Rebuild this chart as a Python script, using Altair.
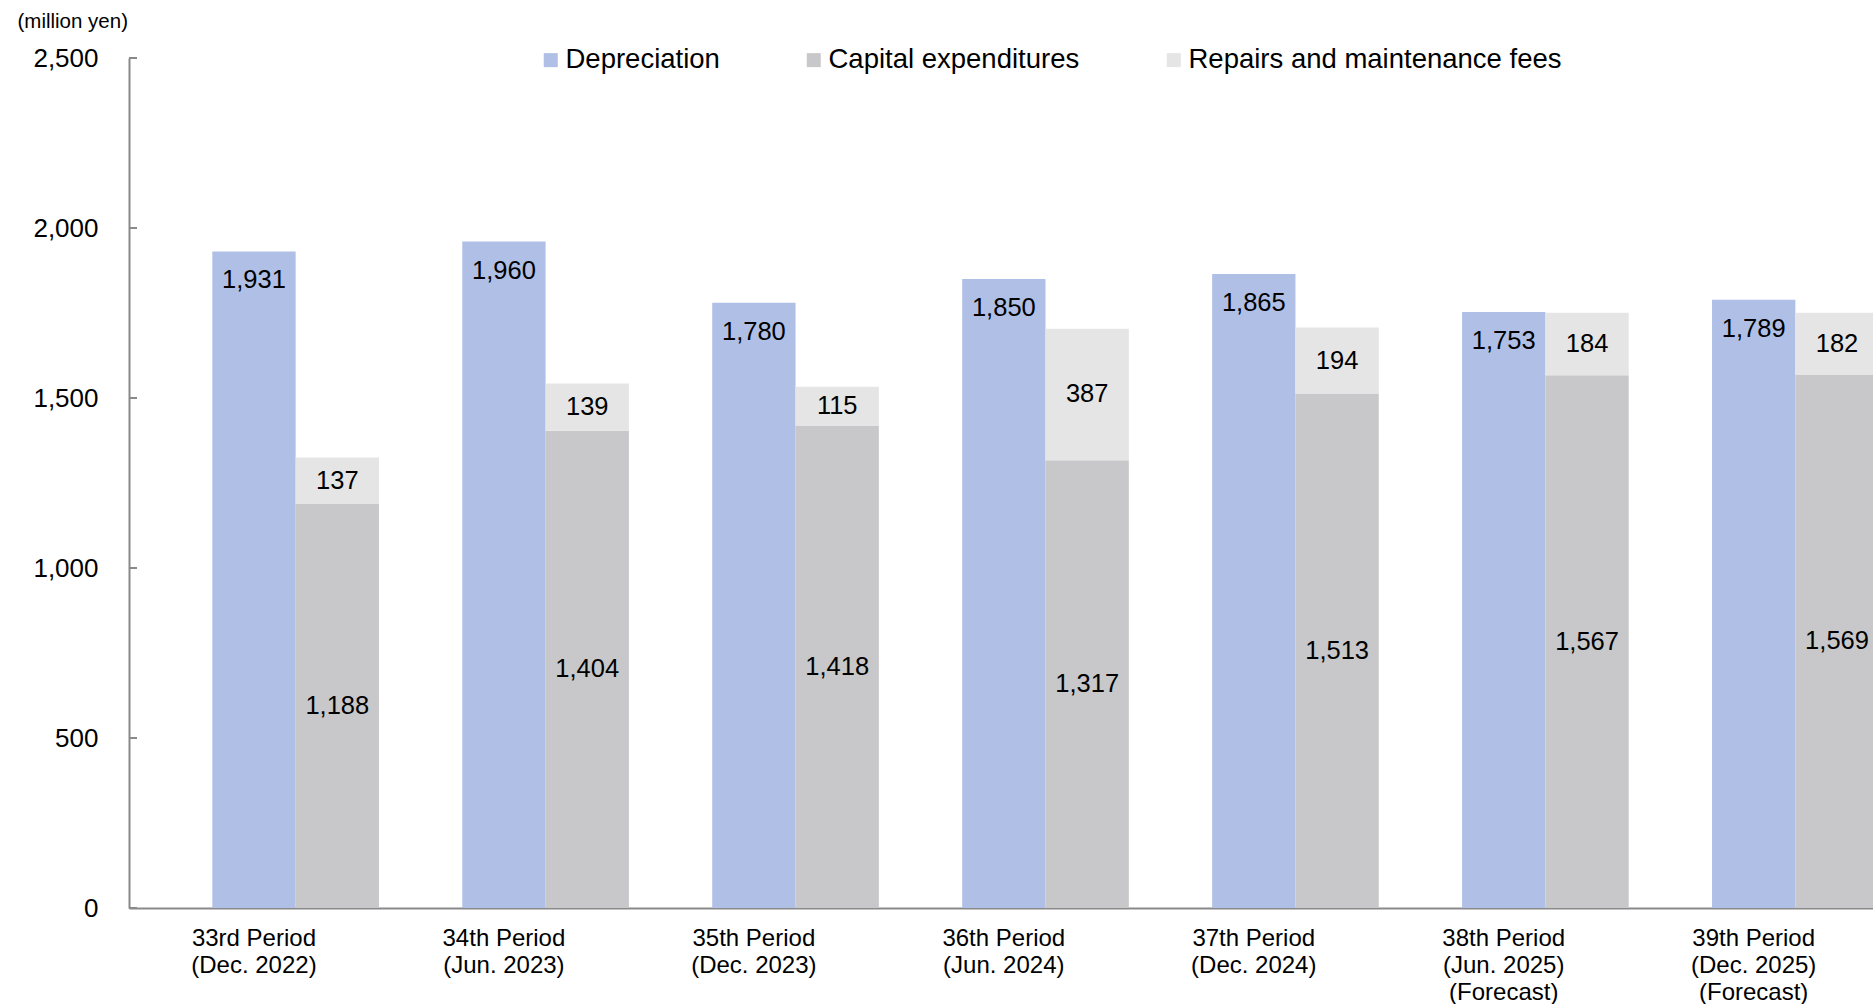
import altair as alt
import pandas as pd

# ---- data ----
periods = [
    "33rd Period|(Dec. 2022)",
    "34th Period|(Jun. 2023)",
    "35th Period|(Dec. 2023)",
    "36th Period|(Jun. 2024)",
    "37th Period|(Dec. 2024)",
    "38th Period|(Jun. 2025)|(Forecast)",
    "39th Period|(Dec. 2025)|(Forecast)",
]
depreciation = [1931, 1960, 1780, 1850, 1865, 1753, 1789]
capex = [1188, 1404, 1418, 1317, 1513, 1567, 1569]
repairs = [137, 139, 115, 387, 194, 184, 182]

series_names = ["Depreciation", "Capital expenditures", "Repairs and maintenance fees"]
series_colors = ["#AFBFE6", "#C8C8CA", "#E5E5E5"]
y_ticks = [0, 500, 1000, 1500, 2000, 2500]

rows = []
for i, p in enumerate(periods):
    rows.append(dict(period=p, group="A", series=series_names[0], base=0, top=depreciation[i], val=depreciation[i]))
    rows.append(dict(period=p, group="B", series=series_names[1], base=0, top=capex[i], val=capex[i]))
    rows.append(dict(period=p, group="B", series=series_names[2], base=capex[i], top=capex[i] + repairs[i], val=repairs[i]))
df = pd.DataFrame(rows)
ticks_df = pd.DataFrame({"top": y_ticks})

FONT = "Liberation Sans"
AXIS_GRAY = "#898989"

x_scale = alt.Scale(domain=periods, range=[0, 1833], paddingInner=1 / 3, paddingOuter=1 / 3)
xoff = alt.XOffset("group:N", scale=alt.Scale(domain=["A", "B"], paddingInner=0, paddingOuter=0))
y_scale = alt.Scale(domain=[0, 2500], nice=False)

x_axis = alt.Axis(
    title="",
    labelExpr="split(datum.label, '|')",
    labelFont=FONT,
    labelFontSize=24,
    labelColor="black",
    labelPadding=18,
    labelLineHeight=27,
    labelOffset=-41.7,
    labelAngle=0,
    labelOverlap=False,
    labelBound=False,
    labelLimit=400,
    ticks=False,
    tickSize=0,
    domainColor=AXIS_GRAY,
    domainWidth=2,
    grid=False,
)
y_axis = alt.Axis(
    title="(million yen)",
    titleAngle=0,
    titleX=-112,
    titleY=-37,
    titleAlign="left",
    titleBaseline="middle",
    titleFont=FONT,
    titleFontSize=20.5,
    titleFontWeight="normal",
    titleColor="black",
    values=y_ticks,
    format=",d",
    labelFont=FONT,
    labelFontSize=26,
    labelColor="black",
    labelPadding=31,
    ticks=False,
    tickSize=0,
    domainColor=AXIS_GRAY,
    domainWidth=2,
    grid=False,
)

X = alt.X("period:N", sort=periods, scale=x_scale, axis=x_axis)
Y_TOP = alt.Y("top:Q", scale=y_scale, axis=y_axis)

base = alt.Chart(df)

bars = base.mark_bar(clip=True).encode(
    x=X,
    xOffset=xoff,
    y=Y_TOP,
    y2="base:Q",
    color=alt.Color(
        "series:N",
        scale=alt.Scale(domain=series_names, range=series_colors),
        legend=alt.Legend(
            title=None,
            orient="none",
            direction="horizontal",
            legendX=408,
            legendY=-12,
            symbolType="square",
            symbolSize=196,
            symbolStrokeWidth=0,
            labelFont=FONT,
            labelFontSize=27.5,
            labelColor="black",
            labelOffset=1,
            columnPadding=80,
            padding=0,
            labelLimit=600,
        ),
    ),
)

dep_text = base.transform_filter(
    alt.datum.series == series_names[0]
).mark_text(dy=29, baseline="middle", align="center", font=FONT, fontSize=25.5, color="black").encode(
    x=X,
    xOffset=xoff,
    y=Y_TOP,
    text=alt.Text("val:Q", format=",d"),
)

stack_text = base.transform_filter(
    alt.datum.series != series_names[0]
).transform_calculate(
    mid="(datum.base + datum.top) / 2"
).mark_text(baseline="middle", align="center", font=FONT, fontSize=25.5, color="black").encode(
    x=X,
    xOffset=xoff,
    y=alt.Y("mid:Q", scale=y_scale, axis=y_axis),
    text=alt.Text("val:Q", format=",d"),
)

tick_marks = alt.Chart(ticks_df).mark_rule(color=AXIS_GRAY, strokeWidth=2).encode(
    y=Y_TOP,
    x=alt.value(0),
    x2=alt.value(8),
)

chart = alt.layer(bars, dep_text, stack_text, tick_marks).properties(
    width=1744,
    height=850,
    padding={"left": 129, "top": 58, "right": 0, "bottom": 96},
    autosize=alt.AutoSizeParams(type="none"),
    background="white",
).configure_view(strokeWidth=0)

chart.save("out.html", embed_options={"renderer": "svg", "actions": False})
